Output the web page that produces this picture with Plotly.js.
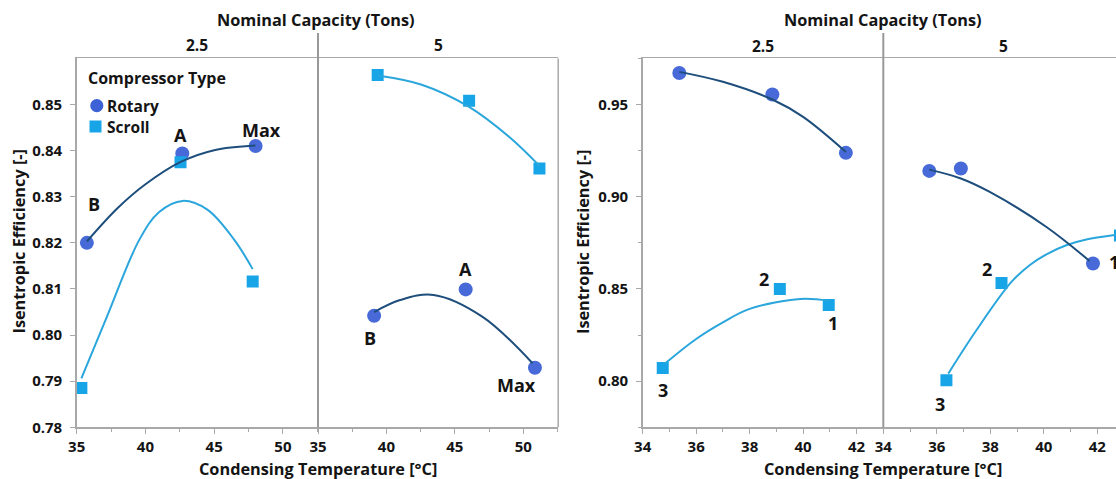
<!DOCTYPE html>
<html><head><meta charset="utf-8">
<script src="https://cdn.plot.ly/plotly-3.0.1.min.js"></script>
<style>html,body{margin:0;padding:0;overflow:hidden;background:#fff}#chart{width:1140px;height:479px}</style>
</head><body><div id="chart"></div>
<script>
// ---------------- DATA ----------------
// x = condensing temperature [°C], y = isentropic efficiency [-]
const capacityFacets = ['2.5', '5'];
const compressorTypes = ['Rotary', 'Scroll'];

// Left chart, 2.5 tons
const L25_rotary_T = [35.74, 42.68, 48.01];
const L25_rotary_E = [0.8200, 0.8394, 0.8410];
const L25_rotary_lbl = ['B', 'A', 'Max'];
const L25_scroll_T = [35.34, 42.55, 47.80];
const L25_scroll_E = [0.7885, 0.8375, 0.8116];
const L25_rotaryFit_T = [35.74, 38.0, 40.0, 42.6, 45.0, 48.0];
const L25_rotaryFit_E = [0.8203, 0.8276, 0.8327, 0.8376, 0.8401, 0.8411];
const L25_scrollFit_T = [35.34, 37.2, 39.56, 41.0, 42.7, 44.5, 46.45, 47.8];
const L25_scrollFit_E = [0.7906, 0.8040, 0.8207, 0.8267, 0.8291, 0.8272, 0.8207, 0.8143];

// Left chart, 5 tons
const L5_rotary_T = [39.10, 45.79, 50.85];
const L5_rotary_E = [0.8042, 0.8099, 0.7929];
const L5_rotary_lbl = ['B', 'A', 'Max'];
const L5_scroll_T = [39.36, 46.04, 51.18];
const L5_scroll_E = [0.8564, 0.8508, 0.8361];
const L5_rotaryFit_T = [39.10, 41.0, 43.45, 47.0, 50.67];
const L5_rotaryFit_E = [0.8050, 0.8076, 0.8087, 0.8040, 0.7939];
const L5_scrollFit_T = [39.36, 42.58, 46.04, 49.0, 51.18];
const L5_scrollFit_E = [0.8563, 0.8543, 0.8495, 0.8429, 0.8367];

// Right chart, 2.5 tons
const R25_rotary_T = [35.37, 38.85, 41.60];
const R25_rotary_E = [0.9671, 0.9554, 0.9238];
const R25_scroll_T = [34.75, 39.13, 40.96];
const R25_scroll_E = [0.8071, 0.8500, 0.8413];
const R25_scroll_lbl = ['3', '2', '1'];
const R25_rotaryFit_T = [35.37, 37.0, 38.85, 40.0, 41.60];
const R25_rotaryFit_E = [0.9677, 0.9623, 0.9527, 0.9433, 0.9243];
const R25_scrollFit_T = [34.82, 36.0, 37.0, 38.0, 39.91, 40.97];
const R25_scrollFit_E = [0.8094, 0.8229, 0.8319, 0.8392, 0.8446, 0.8436];

// Right chart, 5 tons
const R5_rotary_T = [35.72, 36.90, 41.84];
const R5_rotary_E = [0.9140, 0.9153, 0.8638];
const R5_rotary_lbl = ['', '', '1'];
const R5_scroll_T = [36.36, 38.42, 42.85];
const R5_scroll_E = [0.8005, 0.8533, 0.8790];
const R5_scroll_lbl = ['3', '2', '1'];
const R5_rotaryFit_T = [35.72, 36.9, 37.98, 40.1, 41.71];
const R5_rotaryFit_E = [0.9147, 0.9099, 0.9026, 0.8836, 0.8652];
const R5_scrollFit_T = [36.43, 37.48, 38.79, 39.47, 40.1, 40.84, 41.59, 42.58, 42.85];
const R5_scrollFit_E = [0.8041, 0.8276, 0.8538, 0.8629, 0.8688, 0.8737, 0.8768, 0.8791, 0.8795];

// Tick values
const leftYTicks = [0.78, 0.79, 0.80, 0.81, 0.82, 0.83, 0.84, 0.85];
const rightYTicks = [0.80, 0.85, 0.90, 0.95];
const leftXTicks = [35, 40, 45, 50];
const rightXTicks = [34, 36, 38, 40, 42];

// ---------------- STYLE / LAYOUT ----------------
const W = 1140, H = 479;
const FONT = 'Open Sans, Noto Sans, sans-serif';
const TXT = '#141414';
const AX = '#a8a8a8';
const C_ROT = '#3d62d6', C_SCR = '#17a5e8';
const C_ROT_LINE = '#1e4e7c', C_SCR_LINE = '#2aa6dc';
const px = v => v / W, py = v => 1 - v / H;
const yDom = [py(427.3), py(58.4)];

const traces = [];
const annotations = [];

function addMarkers(T, E, xa, ya, kind) {
  const rot = kind === 'Rotary';
  traces.push({
    type: 'scatter', mode: 'markers', x: T, y: E, xaxis: xa, yaxis: ya,
    name: kind, showlegend: false, hoverinfo: 'skip',
    marker: rot ? {symbol: 'circle', size: 14, color: C_ROT, opacity: 0.95, line: {width: 0}}
                : {symbol: 'square', size: 12, color: C_SCR, line: {width: 0}}
  });
}
function addLine(T, E, xa, ya, kind) {
  traces.push({
    type: 'scatter', mode: 'lines', x: T, y: E, xaxis: xa, yaxis: ya,
    showlegend: false, hoverinfo: 'skip',
    line: {color: kind === 'Rotary' ? C_ROT_LINE : C_SCR_LINE, width: 2, shape: 'spline', smoothing: 1}
  });
}
function addLabels(T, E, lbls, xa, ya, shifts) {
  lbls.forEach((t, i) => {
    if (!t) return;
    annotations.push({
      xref: xa, yref: ya, x: T[i], y: E[i], text: t, showarrow: false,
      xanchor: 'center', yanchor: 'middle', xshift: shifts[i][0], yshift: shifts[i][1],
      font: {family: FONT, size: 18, color: TXT, weight: 'bold'}
    });
  });
}

// markers
addMarkers(L25_rotary_T, L25_rotary_E, 'x', 'y', 'Rotary');
addMarkers(L5_rotary_T, L5_rotary_E, 'x2', 'y', 'Rotary');
addMarkers(R25_rotary_T, R25_rotary_E, 'x3', 'y2', 'Rotary');
addMarkers(R5_rotary_T, R5_rotary_E, 'x4', 'y2', 'Rotary');
addMarkers(L25_scroll_T, L25_scroll_E, 'x', 'y', 'Scroll');
addMarkers(L5_scroll_T, L5_scroll_E, 'x2', 'y', 'Scroll');
addMarkers(R25_scroll_T, R25_scroll_E, 'x3', 'y2', 'Scroll');
addMarkers(R5_scroll_T, R5_scroll_E, 'x4', 'y2', 'Scroll');
// fitted curves
addLine(L25_scrollFit_T, L25_scrollFit_E, 'x', 'y', 'Scroll');
addLine(L25_rotaryFit_T, L25_rotaryFit_E, 'x', 'y', 'Rotary');
addLine(L5_scrollFit_T, L5_scrollFit_E, 'x2', 'y', 'Scroll');
addLine(L5_rotaryFit_T, L5_rotaryFit_E, 'x2', 'y', 'Rotary');
addLine(R25_scrollFit_T, R25_scrollFit_E, 'x3', 'y2', 'Scroll');
addLine(R25_rotaryFit_T, R25_rotaryFit_E, 'x3', 'y2', 'Rotary');
addLine(R5_scrollFit_T, R5_scrollFit_E, 'x4', 'y2', 'Scroll');
addLine(R5_rotaryFit_T, R5_rotaryFit_E, 'x4', 'y2', 'Rotary');
// point labels
addLabels(L25_rotary_T, L25_rotary_E, L25_rotary_lbl, 'x', 'y', [[7, 39], [-2, 18], [6, 16]]);
addLabels(L5_rotary_T, L5_rotary_E, L5_rotary_lbl, 'x2', 'y', [[-4, -22], [0, 20], [-18, -17]]);
addLabels(R25_scroll_T, R25_scroll_E, R25_scroll_lbl, 'x3', 'y2', [[0, -22], [-16, 10], [4, -18]]);
addLabels(R5_scroll_T, R5_scroll_E, R5_scroll_lbl, 'x4', 'y2', [[-6, -24], [-15, 14], [4, -18]]);
addLabels(R5_rotary_T, R5_rotary_E, R5_rotary_lbl, 'x4', 'y2', [[0, 0], [0, 0], [21, 2]]);

const tickFont = {family: FONT, size: 15, color: TXT, weight: 'bold'};
const titleFont = {family: FONT, size: 16.3, color: TXT, weight: 'bold'};
const facetFont = {family: FONT, size: 15.5, color: TXT, weight: 'bold'};
const legTitleFont = {family: FONT, size: 16, color: TXT, weight: 'bold'};
const legItemFont = {family: FONT, size: 15.5, color: TXT, weight: 'bold'};
function xAxis(dom, range, ticks, minor, anchor) {
  return {domain: dom, range: range, anchor: anchor, tickvals: ticks, ticks: 'outside', ticklen: 5,
    tickcolor: AX, showline: true, linecolor: AX, linewidth: 1.5, mirror: true, showgrid: false,
    zeroline: false, tickfont: tickFont, fixedrange: true,
    minor: {dtick: minor, ticks: 'outside', ticklen: 3, tickcolor: AX, showgrid: false}};
}
function yAxis(range, ticks, anchor, minor) {
  const a = {domain: yDom, range: range, anchor: anchor, tickvals: ticks, tickformat: '.2f',
    ticks: 'outside', ticklen: 5, tickcolor: AX, showline: true, linecolor: AX, linewidth: 1.5,
    ticklabelstandoff: 5,
    showgrid: false, zeroline: false, tickfont: tickFont, fixedrange: true};
  if (minor) a.minor = {dtick: minor, ticks: 'outside', ticklen: 3, tickcolor: AX, showgrid: false};
  return a;
}
function txt(x, y, text, extra) {
  return Object.assign({xref: 'paper', yref: 'paper', x: x, y: y, text: text, showarrow: false,
    xanchor: 'center', yanchor: 'middle', font: titleFont}, extra || {});
}

const layout = {
  width: W, height: H, margin: {l: 0, r: 0, t: 0, b: 0},
  paper_bgcolor: '#fff', plot_bgcolor: '#fff',
  font: {family: FONT, color: TXT},
  showlegend: false,
  xaxis: xAxis([px(76.7), px(318)], [35, 52.55], leftXTicks, 2.5, 'y'),
  xaxis2: xAxis([px(318), px(558.2)], [35, 52.55], leftXTicks, 2.5, 'y'),
  xaxis3: xAxis([px(642.7), px(883.3)], [34, 43], rightXTicks, 1, 'y2'),
  xaxis4: xAxis([px(883.3), px(1124)], [34, 43], rightXTicks, 1, 'y2'),
  yaxis: yAxis([0.78, 0.86], leftYTicks, 'x', null),
  yaxis2: yAxis([0.775, 0.975], rightYTicks, 'x3', 0.025),
  shapes: [
    {type: 'line', xref: 'x2 domain', yref: 'paper', x0: 0, x1: 0, y0: yDom[0], y1: py(33), line: {color: '#999', width: 2}},
    {type: 'line', xref: 'x2 domain', yref: 'paper', x0: 1, x1: 1, y0: yDom[0], y1: yDom[1], line: {color: AX, width: 1.5}},
    {type: 'line', xref: 'x4 domain', yref: 'paper', x0: 0, x1: 0, y0: yDom[0], y1: py(33), line: {color: '#999', width: 2}},
    // legend swatches
    {type: 'circle', xref: 'paper', yref: 'paper', x0: px(90.2), x1: px(103.4), y0: py(112.3), y1: py(99.1), fillcolor: C_ROT, line: {width: 0}},
    {type: 'rect', xref: 'paper', yref: 'paper', x0: px(89.5), x1: px(101.5), y0: py(132.5), y1: py(120.5), fillcolor: C_SCR, line: {width: 0}}
  ],
  annotations: annotations.concat([
    txt(px(86), py(77.7), 'Compressor Type', {xanchor: 'left', font: legTitleFont}),
    txt(px(105), py(105.7), compressorTypes[0], {xanchor: 'left', font: legItemFont}),
    txt(px(105), py(126.5), compressorTypes[1], {xanchor: 'left', font: legItemFont}),
    txt(px(316.5), py(19.5), 'Nominal Capacity (Tons)'),
    txt(px(883), py(20.5), 'Nominal Capacity (Tons)'),
    txt(0.5, py(45), capacityFacets[0], {xref: 'x domain', font: facetFont}),
    txt(0.5, py(45), capacityFacets[1], {xref: 'x2 domain', font: facetFont}),
    txt(0.5, py(45.5), capacityFacets[0], {xref: 'x3 domain', font: facetFont}),
    txt(0.5, py(45.5), capacityFacets[1], {xref: 'x4 domain', font: facetFont}),
    txt(px(317.5), py(469), 'Condensing Temperature [°C]'),
    txt(px(883), py(469), 'Condensing Temperature [°C]'),
    txt(px(18.5), py(242), 'Isentropic Efficiency [-]', {textangle: -90}),
    txt(px(583), py(242), 'Isentropic Efficiency [-]', {textangle: -90})
  ])
};

Plotly.newPlot('chart', traces, layout, {staticPlot: true, displayModeBar: false});
</script></body></html>
